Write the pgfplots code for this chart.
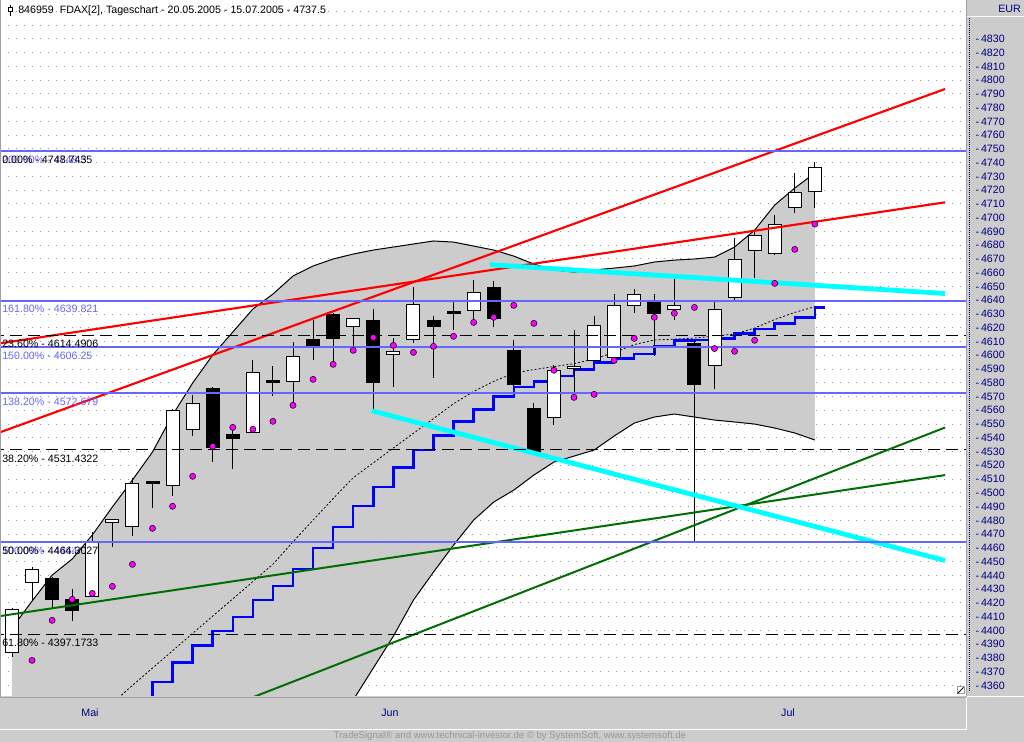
\documentclass[border=0pt]{standalone}
\usepackage{pgfplots}
\pgfplotsset{compat=1.18}
\usepackage{pgfplotstable}
\usepgfplotslibrary{fillbetween}
\usepackage{fontspec}
\setmainfont{Liberation Sans}

\definecolor{panel}{RGB}{204,204,204}
\definecolor{bandgray}{RGB}{204,204,204}
\definecolor{fibblue}{RGB}{102,102,255}
\definecolor{stepblue}{RGB}{0,0,255}
\definecolor{dgreen}{RGB}{0,110,0}
\definecolor{navy}{RGB}{0,0,128}
\definecolor{sar}{RGB}{255,0,255}
\definecolor{cy}{RGB}{0,255,255}
\definecolor{rd}{RGB}{255,0,0}
\definecolor{footgray}{RGB}{150,150,150}
\definecolor{sepgray}{RGB}{160,160,160}
\definecolor{gridgray}{RGB}{150,150,150}

\newcommand\lbl{\fontsize{8}{9.6}\selectfont}

% candles: index, open, high, low, close
\pgfplotstableread{
i o h l c
0 4384.0 4416.0 4380.9 4415.3
1 4434.9 4446.3 4422.1 4444.4
2 4437.9 4439.0 4415.6 4422.8
3 4422.8 4430.1 4407.0 4414.3
4 4424.5 4471.3 4424.0 4463.7
5 4478.6 4481.0 4460.8 4480.8
6 4475.4 4510.6 4468.8 4506.9
7 4508.2 4508.5 4489.2 4506.6
8 4505.5 4561.0 4497.7 4560.0
9 4546.2 4571.1 4541.5 4565.1
10 4576.0 4577.0 4522.6 4533.1
11 4542.5 4549.3 4517.3 4539.6
12 4543.7 4596.6 4543.5 4587.5
13 4581.4 4592.2 4570.4 4580.3
14 4580.8 4609.6 4561.4 4599.3
15 4611.6 4625.6 4596.6 4607.0
16 4630.0 4631.0 4594.2 4612.0
17 4621.1 4627.0 4606.2 4626.9
18 4625.4 4633.4 4560.2 4580.0
19 4600.7 4612.4 4577.1 4602.9
20 4611.6 4649.9 4609.2 4637.1
21 4625.4 4628.6 4583.7 4620.8
22 4631.5 4639.0 4618.4 4630.4
23 4632.7 4654.7 4622.0 4645.8
24 4649.4 4654.0 4620.4 4627.0
25 4603.8 4611.1 4577.7 4579.1
26 4561.4 4565.1 4528.0 4529.2
27 4554.9 4592.9 4549.3 4588.8
28 4590.6 4618.4 4573.5 4592.2
29 4596.4 4628.6 4596.0 4621.8
30 4598.5 4644.5 4598.0 4636.3
31 4636.3 4647.9 4631.0 4644.3
32 4638.7 4644.3 4599.5 4630.2
33 4633.4 4655.2 4625.7 4636.3
34 4608.7 4610.0 4464.2 4579.1
35 4592.7 4638.7 4575.7 4633.4
36 4642.1 4685.0 4640.2 4669.3
37 4676.0 4689.9 4656.0 4687.2
38 4673.9 4702.0 4673.0 4695.2
39 4707.6 4732.3 4703.2 4718.5
40 4719.2 4740.3 4706.9 4736.7
}\candles

% white candles only (interior)
\pgfplotstableread{
i o c
0 4384.0 4415.3
1 4434.9 4444.4
4 4424.5 4463.7
5 4478.6 4480.8
6 4475.4 4506.9
8 4505.5 4560.0
9 4546.2 4565.1
12 4543.7 4587.5
14 4580.8 4599.3
17 4621.1 4626.9
19 4600.7 4602.9
20 4611.6 4637.1
23 4632.7 4645.8
27 4554.9 4588.8
28 4590.6 4592.2
29 4596.4 4621.8
30 4598.5 4636.3
31 4636.3 4644.3
33 4633.4 4636.3
35 4592.7 4633.4
36 4642.1 4669.3
37 4676.0 4687.2
38 4673.9 4695.2
39 4707.6 4718.5
40 4719.2 4736.7
}\whites

% bollinger bands
\pgfplotstableread{
i up lo
0 4401.7 4320
1 4421.3 4320
2 4440.2 4320
3 4451.9 4320
4 4469.3 4320
5 4489.7 4320
6 4509.3 4320
7 4529.7 4320
8 4556.6 4320
9 4579.8 4320
10 4600.2 4320
11 4616.9 4320
12 4633.6 4320
13 4644.5 4320
14 4657.6 4320
15 4664.9 4320
16 4670.0 4320
17 4673.6 4349.4
18 4676.5 4372.6
19 4678.7 4395.8
20 4680.9 4422.0
21 4683.1 4442.4
22 4682.3 4462.0
23 4679.4 4480.2
24 4676.5 4493.3
25 4672.1 4502.0
26 4666.3 4512.9
27 4662.0 4522.4
28 4660.5 4526.7
29 4662.0 4531.1
30 4663.4 4541.3
31 4664.9 4550.7
32 4667.8 4555.1
33 4669.2 4557.3
34 4670.0 4555.1
35 4671.4 4552.9
36 4678.7 4551.5
37 4691.0 4550.0
38 4709.2 4547.1
39 4721.6 4543.5
40 4732.5 4538.4
}\bands

% moving average
\pgfplotstableread{
i ma
5 4347.0
6 4360.0
7 4372.6
8 4385.2
9 4397.8
10 4410.4
11 4422.9
12 4435.5
13 4448.1
14 4464.4
15 4480.2
16 4495.8
17 4511.0
18 4521.8
19 4532.6
20 4543.3
21 4554.0
22 4564.8
23 4573.7
24 4581.0
25 4587.1
26 4589.6
27 4591.8
28 4593.9
29 4597.3
30 4602.0
31 4607.8
32 4611.1
33 4611.7
34 4612.5
35 4614.0
36 4615.4
37 4619.8
38 4626.0
39 4631.2
40 4635.3
}\matab

% parabolic SAR
\pgfplotstableread{
i s
1 4378.2
2 4407.3
3 4422.6
4 4426.9
5 4432.0
6 4448.0
7 4474.2
8 4490.2
9 4512.0
10 4533.8
11 4547.6
12 4546.2
13 4552.0
14 4563.6
15 4582.5
16 4593.4
17 4603.6
18 4613.0
19 4607.2
20 4602.1
21 4606.5
22 4613.8
23 4623.9
24 4627.6
25 4636.3
26 4623.2
27 4589.1
28 4569.4
29 4571.6
30 4596.3
31 4612.3
32 4627.6
33 4630.5
34 4634.8
35 4604.9
36 4602.9
37 4610.9
38 4652.3
39 4677.0
40 4695.4
}\sartab

% stepped stop line
\pgfplotstableread{
i t
6 4340.0
7 4362.5
8 4376.5
9 4388.9
10 4399.5
11 4409.9
12 4422.1
13 4432.3
14 4444.6
15 4459.9
16 4475.1
17 4490.4
18 4504.2
19 4518.5
20 4531.1
21 4541.5
22 4551.8
23 4560.4
24 4569.9
25 4577.1
26 4580.8
27 4585.1
28 4589.8
29 4594.6
30 4597.8
31 4600.9
32 4606.2
33 4610.6
34 4611.0
35 4612.3
36 4615.9
37 4619.1
38 4623.2
39 4627.3
40 4634.9
40.5 4634.9
}\steptab

\begin{document}
\begin{tikzpicture}[x=0.75pt,y=0.75pt]
\fill[panel] (966,0) rectangle (1024,742);
\fill[panel] (0,0) rectangle (966,46);

\begin{axis}[
  at={(0pt,556.5pt)}, anchor=north west,
  scale only axis, width=724.5pt, height=522pt,
  xmin=-0.598, xmax=47.53, ymin=4352.3, ymax=4858.3,
  axis background/.style={fill=white},
  axis line style={draw=none},
  ytick={4360,4370,...,4830},
  ymajorgrids,
  major grid style={draw=gridgray, line width=0.75pt, dash pattern=on 0.75pt off 5.25pt},
  ytick pos=right, yticklabel pos=right,
  ytick style={draw=none},
  yticklabel={-\,\pgfmathprintnumber{\tick}},
  yticklabel style={anchor=west, inner sep=0pt, xshift=2.6pt, text=navy, font=\lbl},
  xtick={7.92,30.0}, xticklabels={}, xtick pos=left,
  xtick style={draw=navy, line width=0.75pt},
  tick align=outside, major tick length=4.5pt,
  /pgf/number format/assume math mode=true,
  /pgf/number format/1000 sep={},
]
\addplot[draw=gridgray, line width=0.75pt, dash pattern=on 0.75pt off 5.25pt] coordinates {(-1,4840) (48,4840)};
\addplot[draw=gridgray, line width=0.75pt, dash pattern=on 0.75pt off 5.25pt] coordinates {(-1,4850) (48,4850)};

% bollinger band
\addplot[name path=up, black, line width=0.75pt] table[x=i, y=up] {\bands};
\addplot[name path=lo, black, line width=0.75pt] table[x=i, y=lo] {\bands};
\addplot[bandgray] fill between[of=up and lo];

% moving average and stop line
\addplot[black, line width=0.6pt, dash pattern=on 1.5pt off 1.5pt] table[x=i, y=ma] {\matab};
\addplot[const plot, stepblue, line width=1.9pt] table[x=i, y=t] {\steptab};

% candles: wicks, bodies, white interiors
\addplot[draw=none, mark=none,
  error bars/.cd, y dir=both, y explicit, error mark=none,
  error bar style={draw=black, line width=0.75pt}]
  table[x=i, y expr={(\thisrow{h}+\thisrow{l})/2},
    y error plus expr={(\thisrow{h}-\thisrow{l})/2},
    y error minus expr={(\thisrow{h}-\thisrow{l})/2}] {\candles};
\addplot[draw=none, mark=none,
  error bars/.cd, y dir=both, y explicit, error mark=none,
  error bar style={draw=black, line width=10.5pt}]
  table[x=i, y expr={(\thisrow{o}+\thisrow{c})/2},
    y error plus expr={abs(\thisrow{c}-\thisrow{o})/2+0.36},
    y error minus expr={abs(\thisrow{c}-\thisrow{o})/2+0.36}] {\candles};
\addplot[draw=none, mark=none,
  error bars/.cd, y dir=both, y explicit, error mark=none,
  error bar style={draw=white, line width=9pt}]
  table[x=i, y expr={(\thisrow{o}+\thisrow{c})/2},
    y error plus expr={(\thisrow{c}-\thisrow{o})/2-0.36},
    y error minus expr={(\thisrow{c}-\thisrow{o})/2-0.36}] {\whites};

% trend lines
\addplot[dgreen, line width=1.5pt] coordinates {(-0.598,4410.4) (46.49,4512.9)};
\addplot[dgreen, line width=1.5pt] coordinates {(10,4340.0) (46.49,4547.5)};
\addplot[rd, line width=1.6pt] coordinates {(-0.598,4544.0) (46.49,4793.6)};
\addplot[rd, line width=1.6pt] coordinates {(-0.598,4608.7) (46.49,4711.2)};
\addplot[cy, line width=3.6pt] coordinates {(23.82,4665.9) (46.49,4644.9)};
\addplot[cy, line width=3.6pt] coordinates {(17.92,4559.7) (46.49,4450.8)};

% fibonacci levels
\addplot[black, line width=0.75pt, dash pattern=on 9pt off 4.5pt] coordinates {(-1,4614.4906) (48,4614.4906)};
\addplot[black, line width=0.75pt, dash pattern=on 9pt off 4.5pt] coordinates {(-1,4531.4322) (48,4531.4322)};
\addplot[black, line width=0.75pt, dash pattern=on 9pt off 4.5pt] coordinates {(-1,4464.3027) (48,4464.3027)};
\addplot[black, line width=0.75pt, dash pattern=on 9pt off 4.5pt] coordinates {(-1,4397.1733) (48,4397.1733)};
\addplot[fibblue, line width=1.5pt] coordinates {(-1,4748.7435) (48,4748.7435)};
\addplot[fibblue, line width=1.5pt] coordinates {(-1,4639.821) (48,4639.821)};
\addplot[fibblue, line width=1.5pt] coordinates {(-1,4606.25) (48,4606.25)};
\addplot[fibblue, line width=1.5pt] coordinates {(-1,4572.679) (48,4572.679)};
\addplot[fibblue, line width=1.5pt] coordinates {(-1,4464.0) (48,4464.0)};

% SAR dots
\addplot[only marks, mark=*, mark size=2.3pt, mark options={fill=sar, draw=none}] table[x=i, y=s] {\sartab};
\end{axis}

% frame pieces
\draw[sepgray, line width=0.75pt] (0,44.5) -- (966,44.5);
\draw[white, line width=0.75pt] (0,12.5) -- (966.5,12.5);
\draw[white, line width=0.75pt] (966.5,12.5) -- (966.5,45);
\draw[sepgray, line width=0.75pt] (966.5,742) -- (966.5,45);
\draw[white, line width=0.75pt] (967,45.5) -- (1024,45.5);
\draw[white!90!panel, line width=0.75pt] (967,725.5) -- (1024,725.5);
\draw[sepgray, line width=0.75pt] (0.5,742) -- (0.5,45);
\draw[navy, line width=0.75pt, dash pattern=on 0.75pt off 0.75pt] (969.5,724) -- (969.5,50);
\draw[sepgray, line width=0.75pt, fill=white] (957,48) rectangle (964,55);
\draw[black, line width=0.75pt] (957.5,48.5) -- (963.5,54.5);

% title
\draw[black, line width=0.75pt] (10,737) -- (10,726);
\draw[black, line width=0.75pt, fill=white] (8,734) rectangle (12,730);
\node[anchor=base west, inner sep=0pt, font=\lbl] at (18,728) {846959\ \ FDAX[2], Tageschart - 20.05.2005 - 15.07.2005 - 4737.5};
\node[anchor=base west, inner sep=0pt, font=\lbl, text=navy] at (998,729) {EUR};

% fibonacci labels
\node[anchor=base west, inner sep=0pt, font=\lbl, text=fibblue] at (2,578.8) {200.00\% - 4748.5};
\node[anchor=base west, inner sep=0pt, font=\lbl] at (2,578.8) {0.00\% - 4748.7435};
\node[anchor=base west, inner sep=0pt, font=\lbl, text=fibblue] at (2,429) {161.80\% - 4639.821};
\node[anchor=base west, inner sep=0pt, font=\lbl] at (2,394.1) {23.60\% - 4614.4906};
\node[anchor=base west, inner sep=0pt, font=\lbl, text=fibblue] at (2,382.8) {150.00\% - 4606.25};
\node[anchor=base west, inner sep=0pt, font=\lbl, text=fibblue] at (2,336.6) {138.20\% - 4572.679};
\node[anchor=base west, inner sep=0pt, font=\lbl] at (2,279.9) {38.20\% - 4531.4322};
\node[anchor=base west, inner sep=0pt, font=\lbl, text=fibblue] at (2,187.1) {100.00\% - 4464};
\node[anchor=base west, inner sep=0pt, font=\lbl] at (2,187.6) {50.00\% - 4464.3027};
\node[anchor=base west, inner sep=0pt, font=\lbl] at (2,95.2) {61.80\% - 4397.1733};

% month labels and footer
\node[font=\lbl, text=navy] at (90,29.5) {Mai};
\node[font=\lbl, text=navy] at (390,29.5) {Jun};
\node[font=\lbl, text=navy] at (788,29.5) {Jul};
\node[font=\fontsize{7.2}{9}\selectfont, text=footgray] at (510,6) {TradeSignal® and www.technical-investor.de © by SystemSoft, www.systemsoft.de};

\pgfresetboundingbox
\useasboundingbox (0,0) rectangle (1024,742);
\end{tikzpicture}
\end{document}
